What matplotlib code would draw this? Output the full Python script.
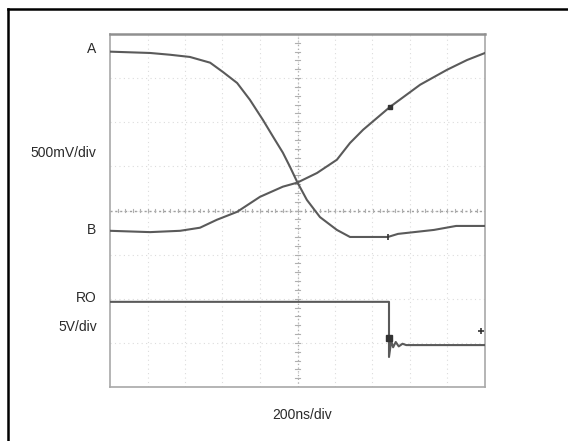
import matplotlib
matplotlib.use("Agg")
import matplotlib.pyplot as plt
from matplotlib.lines import Line2D
import numpy as np

# Trace data in screen divisions (10 horizontal x 8 vertical)
a_t = [0.0, 1.07, 1.6, 2.13, 2.67, 3.01, 3.39, 3.73, 4.08, 4.35, 4.61, 4.8, 4.99, 5.25, 5.6, 6.05, 6.4, 6.67, 7.41, 7.68, 8.64, 9.23, 10.0]
a_v = [7.60, 7.57, 7.53, 7.48, 7.35, 7.14, 6.89, 6.51, 6.05, 5.67, 5.31, 4.99, 4.65, 4.24, 3.85, 3.56, 3.40, 3.40, 3.40, 3.47, 3.56, 3.65, 3.65]

b_t = [0.0, 1.07, 1.87, 2.4, 2.85, 3.39, 4.0, 4.61, 4.99, 5.52, 6.05, 6.4, 6.75, 7.47, 8.27, 8.99, 9.52, 10.0]
b_v = [3.54, 3.51, 3.54, 3.61, 3.79, 3.97, 4.31, 4.54, 4.63, 4.85, 5.15, 5.53, 5.83, 6.35, 6.85, 7.19, 7.41, 7.57]

ro_t = [0.0, 7.44, 7.44, 7.50, 7.55, 7.62, 7.70, 7.80, 7.90, 10.0]
ro_v = [1.93, 1.93, 0.68, 1.05, 0.90, 1.02, 0.92, 0.98, 0.95, 0.95]

channel_labels = ["A", "500mV/div", "B", "RO", "5V/div"]
time_label = "200ns/div"

W, H = 568, 441
fig = plt.figure(figsize=(W / 100, H / 100), dpi=100)
fig.patch.set_facecolor("white")

# outer frame (left and top only)
fig.add_artist(Line2D([8 / W, 8 / W], [0, 1 - 9 / H], transform=fig.transFigure, color="black", lw=1.8))
fig.add_artist(Line2D([8 / W, 1], [1 - 9 / H, 1 - 9 / H], transform=fig.transFigure, color="black", lw=1.8))

left, right, top, bottom = 110, 485, 34, 387
ax = fig.add_axes([left / W, 1 - bottom / H, (right - left) / W, (bottom - top) / H])
ax.set_xlim(0, 10)
ax.set_ylim(0, 8)
ax.set_xticks([])
ax.set_yticks([])
for s in ax.spines.values():
    s.set_color("#a8a8a8")
    s.set_linewidth(1.2)
ax.spines["top"].set_color("#909090")
ax.spines["top"].set_linewidth(1.8)

# grid
for x in range(1, 10):
    ax.axvline(x, color="#dcdcdc", lw=0.8, ls=(0, (1, 3)), zorder=1)
for y in range(1, 8):
    ax.axhline(y, color="#dcdcdc", lw=0.8, ls=(0, (1, 3)), zorder=1)
# center cross with minor ticks
ax.axvline(5, color="#b0b0b0", lw=0.9, ls=(0, (1, 2)), zorder=1)
ax.axhline(4, color="#a0a0a0", lw=1.0, ls=(0, (1.5, 2)), zorder=1)
for t in np.arange(0.2, 10, 0.2):
    ax.plot([t, t], [3.96, 4.04], color="#b0b0b0", lw=0.8, zorder=1)
for t in np.arange(0.2, 8, 0.2):
    ax.plot([4.94, 5.06], [t, t], color="#b0b0b0", lw=0.8, zorder=1)

tc = "#5a5a5a"
ax.plot(a_t, a_v, color=tc, lw=1.5, zorder=3)
ax.plot(b_t, b_v, color=tc, lw=1.5, zorder=3)
ax.plot(ro_t, ro_v, color=tc, lw=1.5, zorder=3)

# small marker artefacts
ax.plot([b_t[13]], [b_v[13]], marker="s", ms=3.5, color="#333333", zorder=4)
ax.plot([ro_t[2]], [1.12], marker="s", ms=5, color="#333333", zorder=4)
ax.plot([9.89], [1.27], marker="+", ms=5, mew=1.2, color="#333333", zorder=4)
ax.plot([a_t[18]], [a_v[18]], marker="|", ms=5, mew=1.2, color="#333333", zorder=4)

fam = ["Liberation Sans", "DejaVu Sans"]
fs = 10
def ftext(px, py, s, ha="center"):
    fig.text(px / W, 1 - py / H, s, ha=ha, va="center", fontsize=fs, family=fam, color="#2a2a2a")

ftext(96, 49, channel_labels[0], ha="right")
ftext(96, 153, channel_labels[1], ha="right")
ftext(96, 230, channel_labels[2], ha="right")
ftext(97, 298, channel_labels[3], ha="right")
ftext(97, 327, channel_labels[4], ha="right")
ftext(302, 415, time_label)

fig.savefig("out.png", dpi=100, facecolor="white")
